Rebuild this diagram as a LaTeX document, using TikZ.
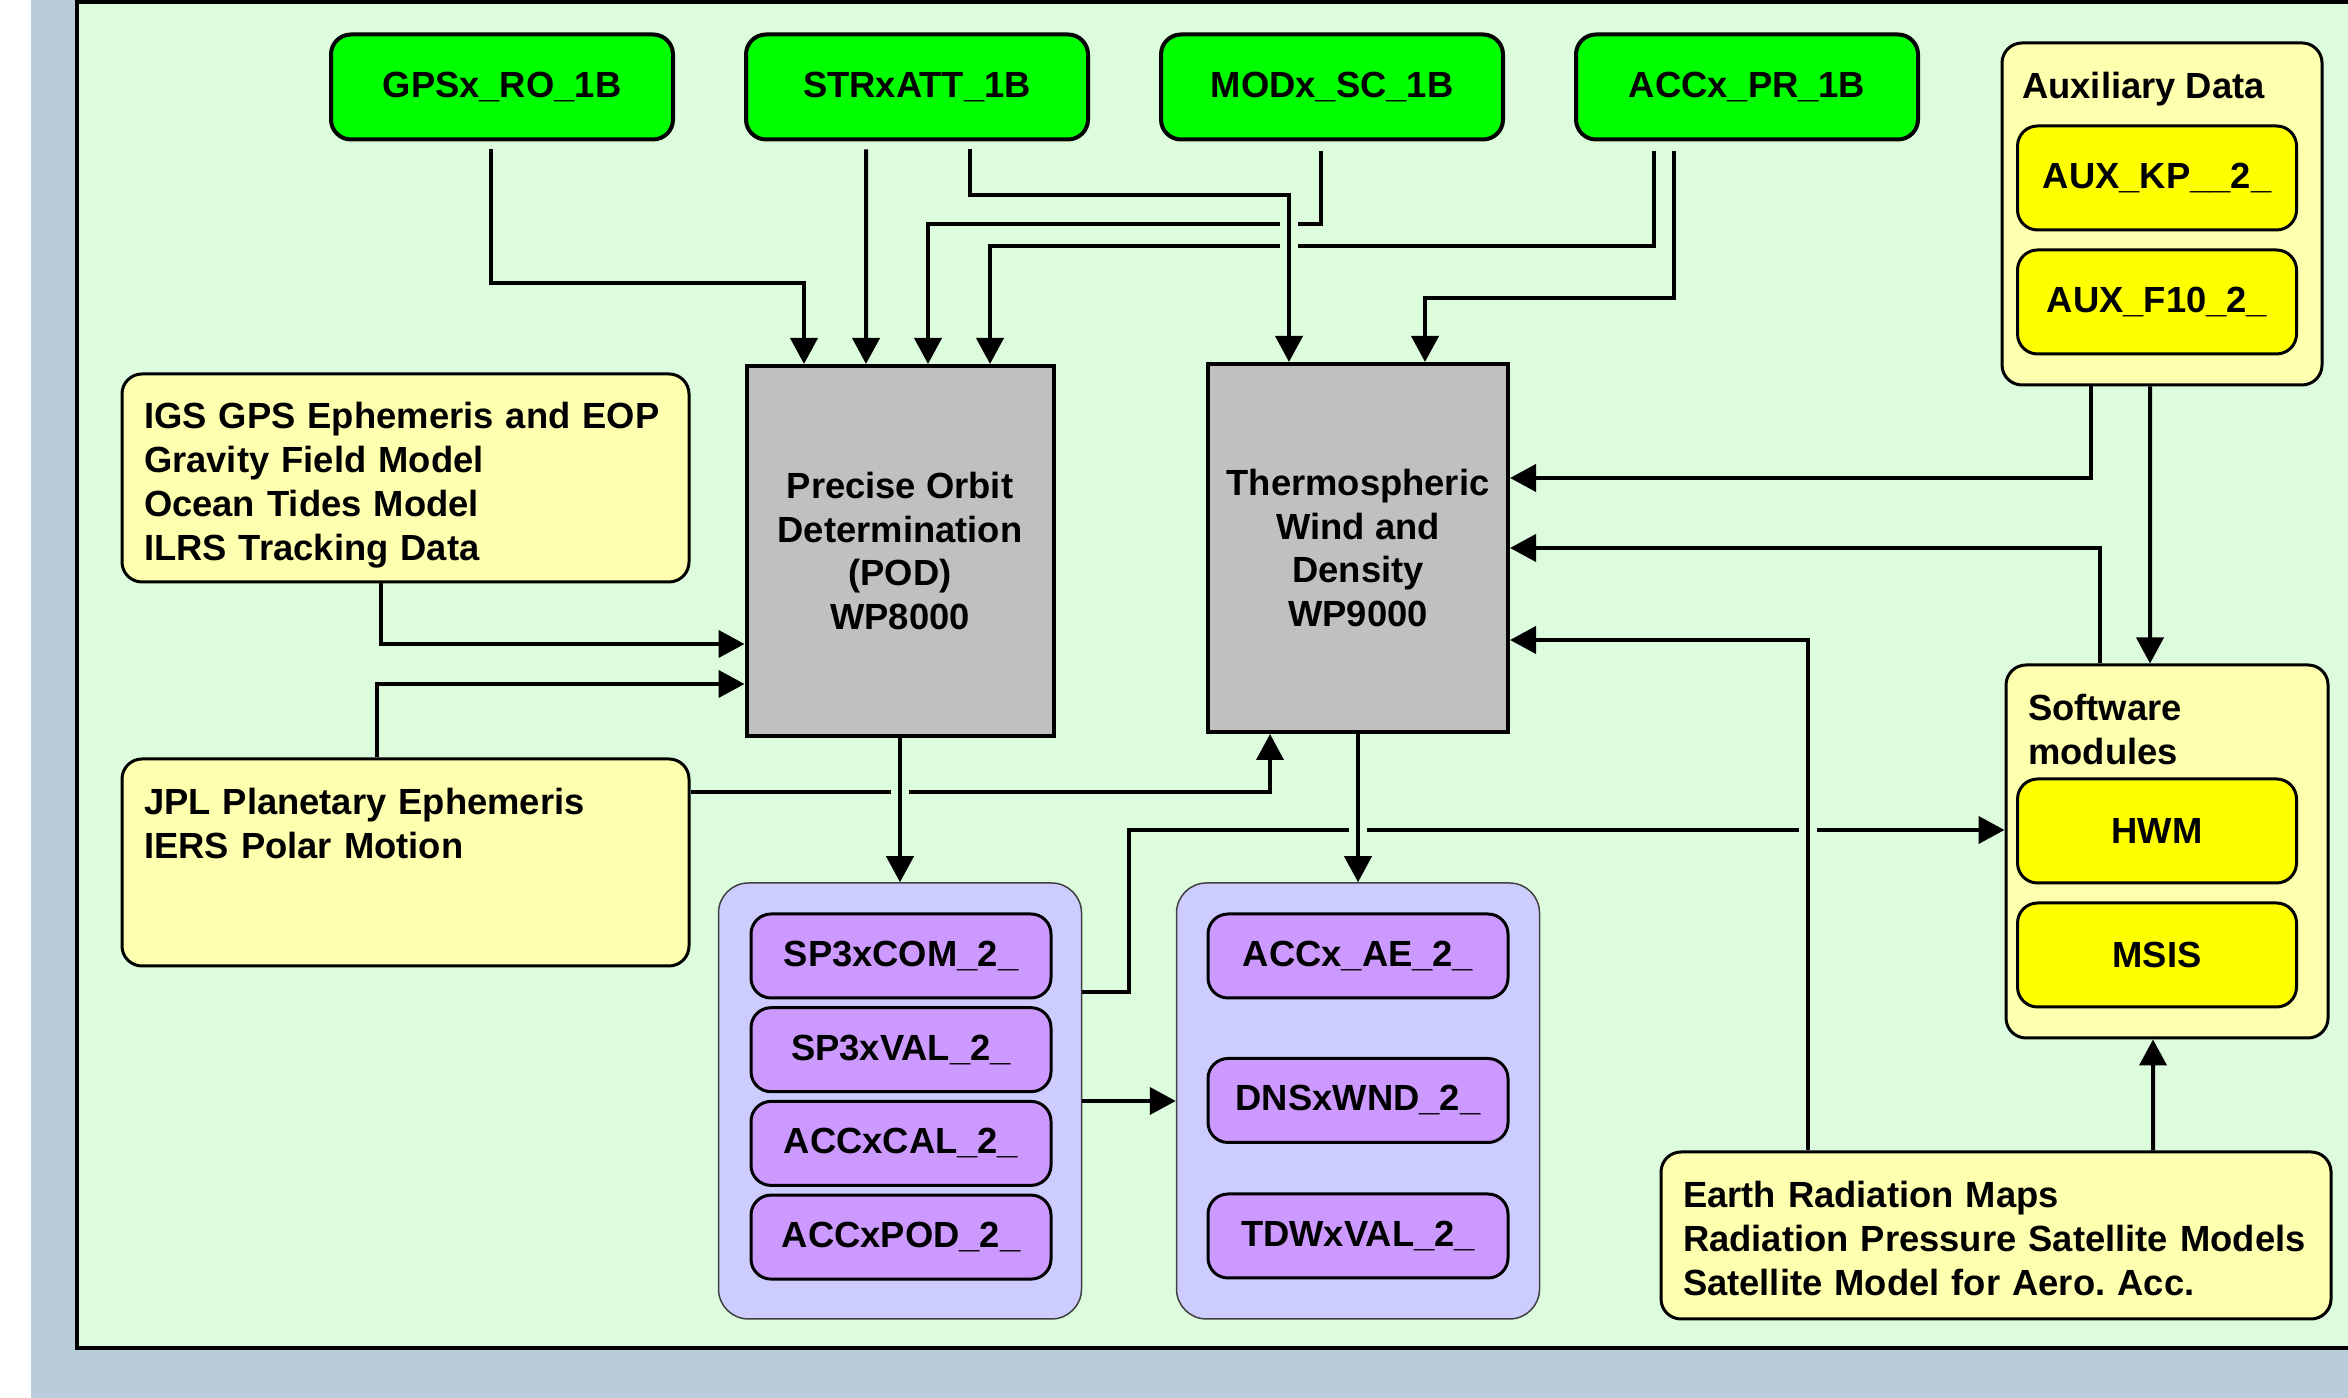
\documentclass[tikz,border=0pt]{standalone}
\usepackage{fontspec}
\setmainfont{Liberation Sans}
\usetikzlibrary{arrows.meta}

\definecolor{panelbg}{RGB}{221,252,221}
\definecolor{frameblue}{RGB}{184,204,218}
\definecolor{prodgreen}{RGB}{0,255,0}
\definecolor{paleyellow}{RGB}{255,255,176}
\definecolor{modyellow}{RGB}{255,255,0}
\definecolor{wpgrey}{RGB}{192,192,192}
\definecolor{outlilac}{RGB}{204,204,255}
\definecolor{outpurple}{RGB}{204,153,255}

\begin{document}
\begin{tikzpicture}[node distance={4.15cm},
    font=\fontsize{10.35}{12.5}\selectfont\bfseries,
    base/.style = {draw, line width=0.3mm, rounded corners=2mm, align=center},
    level1b/.style = {base, fill=prodgreen, line width=0.4mm, minimum width=3.42cm, minimum height=1.05cm},
    wp/.style = {draw, line width=0.4mm, fill=wpgrey, align=center},
    extbox/.style = {base, fill=paleyellow, align=left, inner xsep=2.2mm},
    holder/.style = {draw, line width=0.3mm, fill=paleyellow, rounded corners=2mm},
    modbox/.style = {base, fill=modyellow, minimum width=2.79cm, minimum height=1.04cm},
    group/.style = {draw=black!75, line width=0.15mm, fill=outlilac, rounded corners=3mm, minimum width=3.63cm, minimum height=4.36cm},
    level2/.style = {base, fill=outpurple, minimum width=3cm, minimum height=0.84cm},
    title/.style = {anchor=north west, inner sep=0pt, align=left, yshift=-3mm},
    flow/.style = {line width=0.4mm, -{Triangle[length=2.6mm,width=2.7mm]}},
    hop/.style = {preaction={draw=panelbg, line width=1.8mm, -, shorten <=3mm, shorten >=3mm}}]

    \useasboundingbox (0,0) rectangle (23.48,13.98);
    \clip (0,0) rectangle (23.48,13.98);
    \fill[frameblue] (0.31,0) rectangle (23.48,13.98);
    \draw[fill=panelbg, line width=0.4mm] (0.77,0.50) rectangle (23.8,13.96);

    % level 1b inputs
    \node[level1b] (gps) at (5.02,13.11) {GPSx\_RO\_1B};
    \node[level1b] (str) [right of=gps] {STRxATT\_1B};
    \node[level1b] (mod) [right of=str] {MODx\_SC\_1B};
    \node[level1b] (acc) [right of=mod] {ACCx\_PR\_1B};

    % work packages
    \node[wp, minimum width=3.07cm, minimum height=3.7cm] (pod) at (9.00,8.47) {Precise Orbit\\Determination\\(POD)\\WP8000};
    \node[wp, minimum width=3.0cm, minimum height=3.68cm] (twd) at (13.58,8.50) {Thermospheric\\Wind and\\Density\\WP9000};

    % external data
    \node[extbox, minimum height=2.08cm, text width=5.23cm] (igs) at (4.055,9.20) {\rule{0pt}{4.1mm}IGS GPS Ephemeris and EOP\\Gravity Field Model\\Ocean Tides Model\\ILRS Tracking Data};
    \node[extbox, minimum height=2.07cm, text width=5.23cm] (jpl) at (4.055,5.355) {\rule{0pt}{3.5mm}JPL Planetary Ephemeris\\IERS Polar Motion\\~\\~};
    \node[extbox, minimum height=1.67cm, text width=6.26cm] (earth) at (19.96,1.625) {\rule{0pt}{3.3mm}Earth Radiation Maps\\Radiation Pressure Satellite Models\\Satellite Model for Aero.\ Acc.};

    \node[holder, minimum width=3.2cm, minimum height=3.42cm,
          label={[title, xshift=2.1mm]north west:Auxiliary Data}] (aux) at (21.62,11.84) {};
    \node[modbox] (kp) at (21.57,12.20) {AUX\_KP\_\_2\_};
    \node[modbox] (f10) at (21.57,10.96) {AUX\_F10\_2\_};

    \node[holder, minimum width=3.22cm, minimum height=3.73cm,
          label={[title, xshift=2.3mm]north west:Software\\modules}] (sw) at (21.67,5.465) {};
    \node[modbox] (hwm) at (21.57,5.67) {HWM};
    \node[modbox] (msis) at (21.57,4.43) {MSIS};

    % level 2 products
    \node[group] (podout) at (9.00,2.97) {};
    \node[group] (twdout) at (13.58,2.97) {};
    \node[level2] (sp3com) at (9.01,4.42) {SP3xCOM\_2\_};
    \node[level2, node distance=0.937cm] (sp3val) [below of=sp3com] {SP3xVAL\_2\_};
    \node[level2, node distance=0.937cm] (acccal) [below of=sp3val] {ACCxCAL\_2\_};
    \node[level2, node distance=0.937cm] (accpod) [below of=acccal] {ACCxPOD\_2\_};
    \node[level2] (accae) at (13.58,4.42) {ACCx\_AE\_2\_};
    \node[level2] (dnswnd) at (13.58,2.975) {DNSxWND\_2\_};
    \node[level2] (tdwval) at (13.58,1.62) {TDWxVAL\_2\_};

    % flows into the work packages
    \draw[flow] ([xshift=-1.1mm,yshift=-.8mm]gps.south) -- ++(0,-1.34) -| ([xshift=-9.6mm]pod.north);
    \draw[flow] ([xshift=-5.1mm,yshift=-.8mm]str.south) -- ([xshift=-3.4mm]pod.north);
    \draw[flow] ([xshift=-1.1mm,yshift=-1mm]mod.south) -- ++(0,-0.73) -| ([xshift=2.8mm]pod.north);
    \draw[flow] ([xshift=-9.3mm,yshift=-1mm]acc.south) -- ++(0,-0.95) -| ([xshift=9mm]pod.north);
    \draw[flow, hop] ([xshift=5.3mm,yshift=-.8mm]str.south) -- ++(0,-0.46) -| ([xshift=-6.9mm]twd.north);
    \draw[flow] ([xshift=-7.3mm,yshift=-1mm]acc.south) -- ++(0,-1.47) -| ([xshift=6.7mm]twd.north);

    \draw[flow] ([xshift=-2.45mm]igs.south) |- ([yshift=-9.3mm]pod.west);
    \draw[flow] ([xshift=-2.85mm]jpl.north) |- ([yshift=-13.3mm]pod.west);
    \draw[flow] ([yshift=7.05mm]jpl.east) -| ([xshift=-8.8mm]twd.south);

    \draw[flow] ([xshift=-7.1mm]aux.south) |- ([yshift=7mm]twd.east);
    \draw[flow] ([xshift=-1.2mm]aux.south) -- ([xshift=-1.7mm]sw.north);
    \draw[flow] ([xshift=-6.7mm]sw.north) |- (twd.east);

    % products
    \draw[flow] ([yshift=10.9mm]podout.east) -- ++(0.47,0) |- ([yshift=2.15mm]sw.west);
    \draw[flow] (podout.east) -- (twdout.west);
    \draw[flow, hop] (pod.south) -- (podout.north);
    \draw[flow, hop] (twd.south) -- (twdout.north);

    \draw[flow, hop] ([xshift=-18.8mm]earth.north) |- ([yshift=-9.2mm]twd.east);
    \draw[flow] ([xshift=15.7mm]earth.north) -- ([xshift=-1.4mm]sw.south);
\end{tikzpicture}
\end{document}
